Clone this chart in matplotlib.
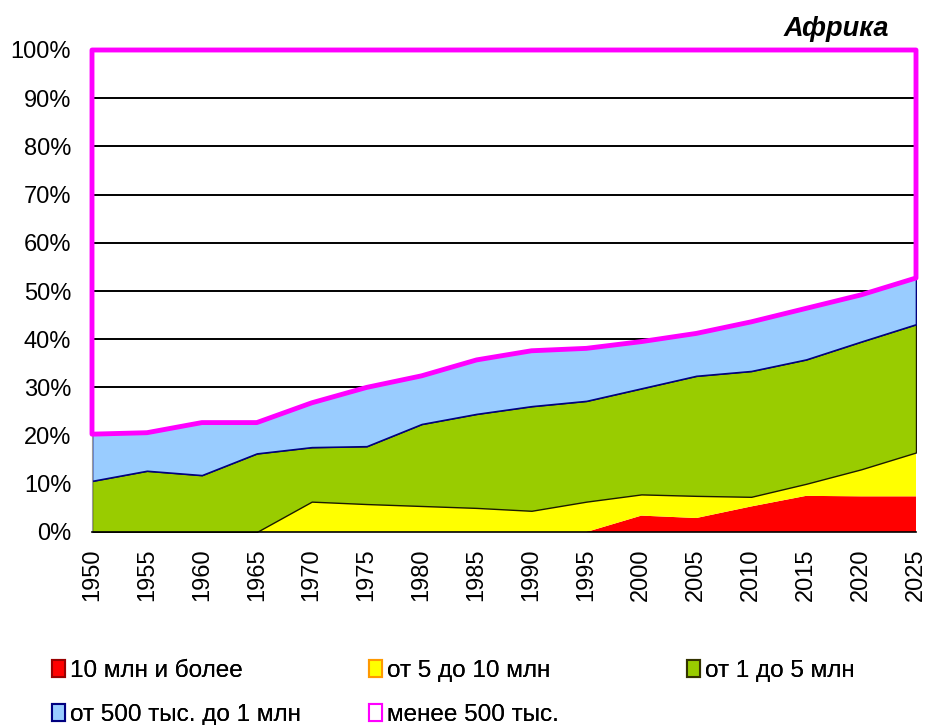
import matplotlib
matplotlib.use("Agg")
import matplotlib.pyplot as plt
from matplotlib.patches import Patch
from matplotlib.ticker import FuncFormatter

plt.rcParams['font.family'] = ['Liberation Sans', 'DejaVu Sans']

years = [1950, 1955, 1960, 1965, 1970, 1975, 1980, 1985,
         1990, 1995, 2000, 2005, 2010, 2015, 2020, 2025]

# shares of urban population by city size, %
over_10m = [0, 0, 0, 0, 0, 0, 0, 0, 0, 0, 3.4, 2.9, 5.3, 7.5, 7.4, 7.4]
from_5_to_10m = [0, 0, 0, 0, 6.3, 5.8, 5.4, 5.0, 4.4, 6.3, 4.4, 4.6, 2.0, 2.5, 5.6, 9.1]
from_1_to_5m = [10.6, 12.7, 11.8, 16.3, 11.3, 12.0, 17.0, 19.5, 21.7, 20.9, 22.0, 24.9, 26.1, 25.8, 26.5, 26.6]
from_500k_to_1m = [9.7, 7.9, 10.9, 6.4, 9.2, 12.2, 10.0, 11.2, 11.5, 10.9, 9.7, 8.8, 10.2, 10.6, 9.7, 9.6]
under_500k = [79.7, 79.4, 77.3, 77.3, 73.2, 70.0, 67.6, 64.3, 62.4, 61.9, 60.5, 58.8, 56.4, 53.6, 50.8, 47.3]

labels = ['10 млн и более', 'от 5 до 10 млн', 'от 1 до 5 млн',
          'от 500 тыс. до 1 млн', 'менее 500 тыс.']
fills = ['#ff0000', '#ffff00', '#99cc00', '#99ccff', 'none']
edges = ['none', 'none', '#1a1a00', '#000080', '#ff00ff']
widths = [0, 0, 1.0, 1.2, 3.5]

fig = plt.figure(figsize=(9.28, 7.25), dpi=100)
ax = fig.add_axes([92 / 928, 1 - 532 / 725, 824 / 928, 482 / 725])

polys = ax.stackplot(years, over_10m, from_5_to_10m, from_1_to_5m,
                     from_500k_to_1m, under_500k, colors=fills)
for p, fc, ec, lw in zip(polys, fills, edges, widths):
    p.set_facecolor(fc)
    p.set_edgecolor(ec)
    p.set_linewidth(lw)
    p.set_zorder(2)
polys[-1].set_clip_on(False)
polys[-1].set_zorder(3)

ax.set_xlim(1950, 2025)
ax.set_ylim(0, 100)
ax.set_xticks(years)
ax.set_xticklabels([str(y) for y in years], rotation=90)
ax.set_yticks(range(0, 101, 10))
ax.yaxis.set_major_formatter(FuncFormatter(lambda v, _: f'{int(v)}%'))
ax.tick_params(axis='y', length=0, pad=15, labelsize=17)
ax.tick_params(axis='x', length=0, pad=12, labelsize=17)
ax.set_axisbelow(True)
ax.grid(axis='y', color='black', linewidth=1.4)
ax.grid(axis='x', visible=False)
for s in ['top', 'right']:
    ax.spines[s].set_visible(False)
ax.spines['left'].set_color('#999999')
ax.spines['bottom'].set_color('black')
ax.spines['bottom'].set_linewidth(1.2)
ax.spines['bottom'].set_zorder(4)

fig.text(889 / 928, 1 - 29 / 725, 'Африка', ha='right', va='center',
         fontsize=19.5, fontweight='bold', fontstyle='italic')

legend_edges = ['#990000', '#ff9900', '#333300', '#000080', '#ff00ff']
legend_fills = ['#ff0000', '#ffff00', '#99cc00', '#99ccff', 'white']
handles = [Patch(facecolor=f, edgecolor=e, linewidth=1.5)
           for f, e in zip(legend_fills, legend_edges)]

columns = [([0, 3], 52), ([1, 4], 369), ([2], 687)]
for idx, x in columns:
    leg = fig.legend([handles[i] for i in idx], [labels[i] for i in idx],
                     loc='upper left', bbox_to_anchor=(x / 928, 1 - 660 / 725),
                     frameon=False, fontsize=17.5, handlelength=0.55,
                     handleheight=0.7, handletextpad=0.2, labelspacing=0.9,
                     borderpad=0, borderaxespad=0)
    fig.add_artist(leg)

fig.savefig('out.png', dpi=100)
